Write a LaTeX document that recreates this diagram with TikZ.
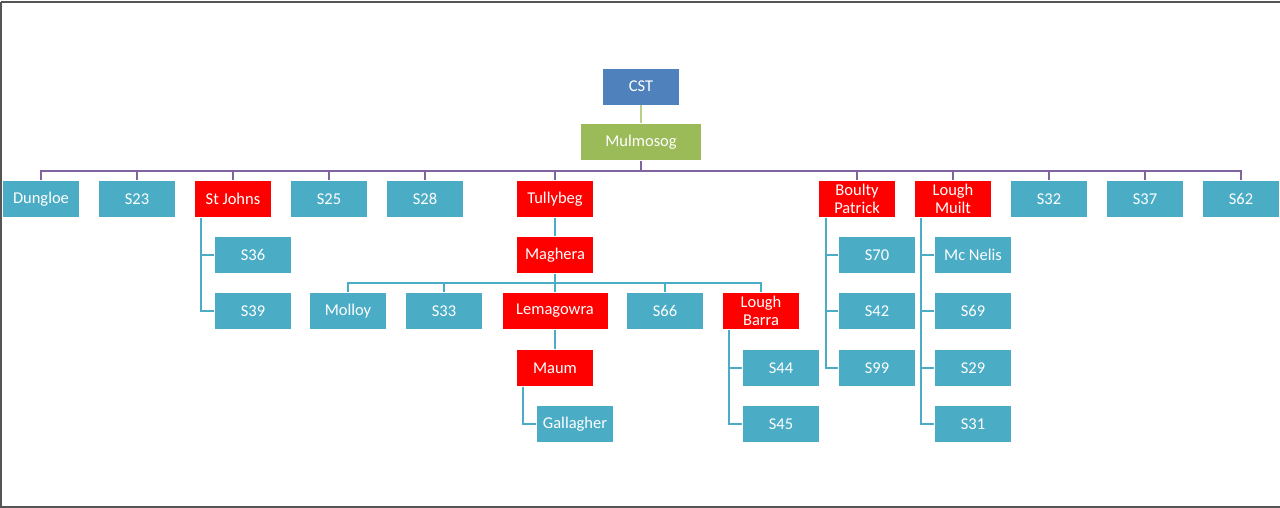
\documentclass[tikz,border=0pt]{standalone}
\usepackage{fontspec}
\setmainfont{Carlito}
\usepackage{tikz}
\usetikzlibrary{positioning}
\definecolor{tealbox}{HTML}{4BACC6}
\definecolor{redbox}{HTML}{FF0000}
\definecolor{bluebox}{HTML}{4F81BD}
\definecolor{greenbox}{HTML}{9BBB59}
\definecolor{purpleline}{HTML}{8064A2}
\definecolor{frameline}{HTML}{555555}
\tikzset{
  box/.style = {draw = white, line width = 0.6pt, text = white, minimum width = 77pt,
    minimum height = 37pt, inner sep = 2pt, align = center,
    font = \fontsize{16.5}{18}\selectfont},
  sta/.style = {box, fill = tealbox},
  site/.style = {box, fill = redbox},
  link/.style = {draw = tealbox, line width = 1.4pt},
  buslink/.style = {draw = purpleline, line width = 1.4pt}
}

\begin{document}
\begin{tikzpicture}[x = 1pt, y = -1pt]
  \useasboundingbox (0, 0) rectangle (1280, 508);
  \draw[frameline, line width = 1.5pt] (1, 2) -- (1280, 2);
  \draw[frameline, line width = 1.5pt] (1, 2) -- (1, 507) -- (1280, 507);
  % top of the tree
  \node[box, fill = bluebox] at (641, 86.5) (cst) {CST};
  \node[box, fill = greenbox, minimum width = 121pt] at (641, 142) (mul) {Mulmosog};
  \coordinate (bus) at (641, 171);
  % first row
  \node[sta] at (41, 199) (dun) {Dungloe};
  \node[sta] at (137, 199) (s23) {S23};
  \node[site] at (233, 199) (stj) {St Johns};
  \node[sta] at (329, 199) (s25) {S25};
  \node[sta] at (425, 199) (s28) {S28};
  \node[site] at (555, 199) (tul) {Tullybeg};
  \node[site] at (857, 199) (bou) {Boulty\\Patrick};
  \node[site] at (953, 199) (lmu) {Lough\\Muilt};
  \node[sta] at (1049, 199) (s32) {S32};
  \node[sta] at (1145, 199) (s37) {S37};
  \node[sta] at (1241, 199) (s62) {S62};
  % St Johns
  \node[sta] at (253, 255) (s36) {S36};
  \node[sta] at (253, 311) (s39) {S39};
  % Tullybeg
  \node[site] at (555, 255) (mag) {Maghera};
  \coordinate (magbus) at (555, 283);
  \node[sta] at (348, 311) (mol) {Molloy};
  \node[sta] at (444, 311) (s33) {S33};
  \node[site, minimum width = 106pt] at (555, 311) (lem) {Lemagowra};
  \node[sta] at (665, 311) (s66) {S66};
  \node[site] at (761, 311) (lba) {Lough\\Barra};
  \node[site] at (555, 368) (mau) {Maum};
  \node[sta] at (575, 424) (gal) {Gallagher};
  \node[sta] at (781, 368) (s44) {S44};
  \node[sta] at (781, 424) (s45) {S45};
  % Boulty Patrick
  \node[sta] at (877, 255) (s70) {S70};
  \node[sta] at (877, 311) (s42) {S42};
  \node[sta] at (877, 368) (s99) {S99};
  % Lough Muilt
  \node[sta] at (973, 255) (mcn) {Mc Nelis};
  \node[sta] at (973, 311) (s69) {S69};
  \node[sta] at (973, 368) (s29) {S29};
  \node[sta] at (973, 424) (s31) {S31};
  % connectors
  \draw[greenbox!70, line width = 1.4pt] (cst) -- (mul);
  \draw[buslink] (mul) -- (bus);
  \foreach \n in {dun, s23, stj, s25, s28, tul, bou, lmu, s32, s37, s62}
  {
  \draw[buslink] (\n.north) |- (bus);
  }
  \draw[link] (tul) -- (mag);
  \draw[link] (mag) -- (magbus);
  \foreach \n in {mol, s33, lem, s66, lba}
  {
  \draw[link] (\n.north) |- (magbus);
  }
  \draw[link] (lem) -- (mau);
  \draw[link] ([xshift = -32pt]mau.south) |- (gal.west);
  \foreach \n in {s36, s39}
  {
  \draw[link] ([xshift = -32pt]stj.south) |- (\n.west);
  }
  \foreach \n in {s44, s45}
  {
  \draw[link] ([xshift = -32pt]lba.south) |- (\n.west);
  }
  \foreach \n in {s70, s42, s99}
  {
  \draw[link] ([xshift = -31pt]bou.south) |- (\n.west);
  }
  \foreach \n in {mcn, s69, s29, s31}
  {
  \draw[link] ([xshift = -32pt]lmu.south) |- (\n.west);
  }
\end{tikzpicture}
\end{document}
